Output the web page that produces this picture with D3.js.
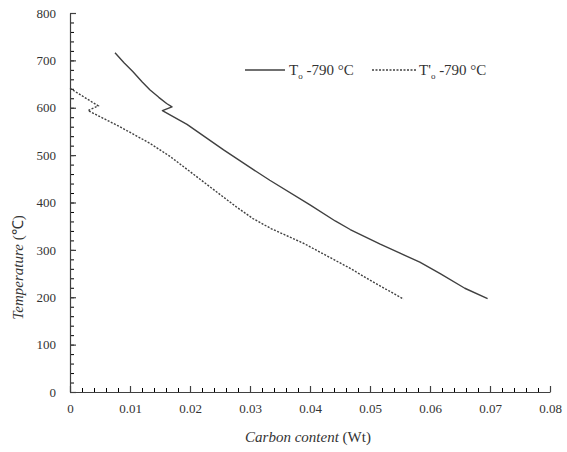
<!DOCTYPE html>
<html>
<head>
<meta charset="utf-8">
<script src="https://cdn.jsdelivr.net/npm/d3@7"></script>
<style>
  body { margin: 0; background: #fff; }
  text { font-family: "Liberation Serif", "Times New Roman", serif; fill: #333; }
</style>
</head>
<body>
<div id="chart"></div>
<script>
// T0 -790 line (solid): [carbon, temperature]
const t0Series = [
  [0.0075, 716], [0.0090, 695], [0.0105, 676], [0.0120, 655], [0.0133, 638],
  [0.0148, 622], [0.0161, 609], [0.0170, 602], [0.0154, 594], [0.0195, 565],
  [0.0256, 511], [0.030, 474], [0.0333, 447], [0.040, 395], [0.0442, 361],
  [0.0467, 343], [0.0517, 312], [0.055, 293], [0.0583, 274], [0.0617, 250],
  [0.0658, 219], [0.0696, 197]
];
// T'0 -790 line (dotted)
const t0pSeries = [
  [0.0, 641], [0.0047, 604], [0.003, 594], [0.0083, 560], [0.0133, 525],
  [0.0167, 497], [0.0222, 444], [0.0278, 390], [0.0305, 366], [0.0335, 345],
  [0.0389, 314], [0.0467, 261], [0.050, 236], [0.0556, 196]
];
const xTicks = [0, 0.01, 0.02, 0.03, 0.04, 0.05, 0.06, 0.07, 0.08];
const yTicks = [0, 100, 200, 300, 400, 500, 600, 700, 800];
const legendLabels = ['-790 °C', '-790 °C'];

(function main(){
  const width = 567, height = 452;
  const margin = { top: 13, right: 17, bottom: 60, left: 70 };
  const innerW = width - margin.left - margin.right;
  const innerH = height - margin.top - margin.bottom;
  const ink = '#404040';

  const svg = d3.select('#chart').append('svg')
    .attr('width', width).attr('height', height);
  const plot = svg.append('g').attr('transform', `translate(${margin.left},${margin.top})`);

  const x = d3.scaleLinear().domain([0, 0.08]).range([0, innerW]);
  const y = d3.scaleLinear().domain([0, 800]).range([innerH, 0]);

  // minor ticks
  plot.append('g')
    .attr('transform', `translate(0,${innerH})`)
    .call(d3.axisBottom(x).tickValues(d3.range(0, 0.0801, 0.002)).tickSize(-4).tickSizeOuter(0).tickFormat(''))
    .call(g => g.select('.domain').remove());
  plot.append('g')
    .call(d3.axisLeft(y).tickValues(d3.range(0, 801, 20)).tickSize(-4).tickSizeOuter(0).tickFormat(''))
    .call(g => g.select('.domain').remove());

  // major axes
  const xAxis = plot.append('g')
    .attr('transform', `translate(0,${innerH})`)
    .call(d3.axisBottom(x).tickValues(xTicks).tickSize(-6).tickSizeOuter(0).tickPadding(12)
      .tickFormat(d => d === 0 ? '0' : d3.format('.2f')(d)));
  const yAxis = plot.append('g')
    .call(d3.axisLeft(y).tickValues(yTicks).tickSize(-6).tickSizeOuter(0).tickPadding(14));

  [xAxis, yAxis].forEach(g => {
    g.selectAll('path, line').attr('stroke', ink).attr('stroke-width', 1.2);
    g.selectAll('text').style('font-size', '13px').style('font-family', '"Liberation Serif", serif').attr('fill', '#333');
  });

  const line = d3.line().x(d => x(d[0])).y(d => y(d[1]));

  plot.append('path').datum(t0Series)
    .attr('fill', 'none').attr('stroke', ink).attr('stroke-width', 1.4)
    .attr('stroke-linejoin', 'round')
    .attr('d', line);
  plot.append('path').datum(t0pSeries)
    .attr('fill', 'none').attr('stroke', ink).attr('stroke-width', 1.4)
    .attr('stroke-dasharray', '2,1.5')
    .attr('d', line);

  // axis titles
  const xt = svg.append('text')
    .attr('x', margin.left + innerW / 2 - 2).attr('y', 442)
    .attr('text-anchor', 'middle').style('font-size', '15px');
  xt.append('tspan').style('font-style', 'italic').text('Carbon content ');
  xt.append('tspan').text('(Wt)');

  const yt = svg.append('text')
    .attr('transform', `translate(23,${margin.top + innerH / 2 + 65}) rotate(-90)`)
    .attr('text-anchor', 'middle').style('font-size', '15px');
  yt.append('tspan').style('font-style', 'italic').text('Temperature ');
  yt.append('tspan').text('(℃)');

  // legend
  const lg = svg.append('g');
  const items = [
    { x0: 245, x1: 285, tx: 289, dash: null, prime: false },
    { x0: 372, x1: 416, tx: 419, dash: '2,1.5', prime: true }
  ];
  items.forEach((it, i) => {
    lg.append('line')
      .attr('x1', it.x0).attr('x2', it.x1).attr('y1', 70).attr('y2', 70)
      .attr('stroke', ink).attr('stroke-width', 1.4)
      .attr('stroke-dasharray', it.dash);
    const t = lg.append('text').attr('x', it.tx).attr('y', 75).style('font-size', '15px');
    t.append('tspan').text(it.prime ? "T'" : 'T');
    t.append('tspan').attr('dy', 4).style('font-size', '9px').text('o');
    t.append('tspan').attr('dy', -4).text(' ' + legendLabels[i]);
  });
})();
</script>
</body>
</html>
